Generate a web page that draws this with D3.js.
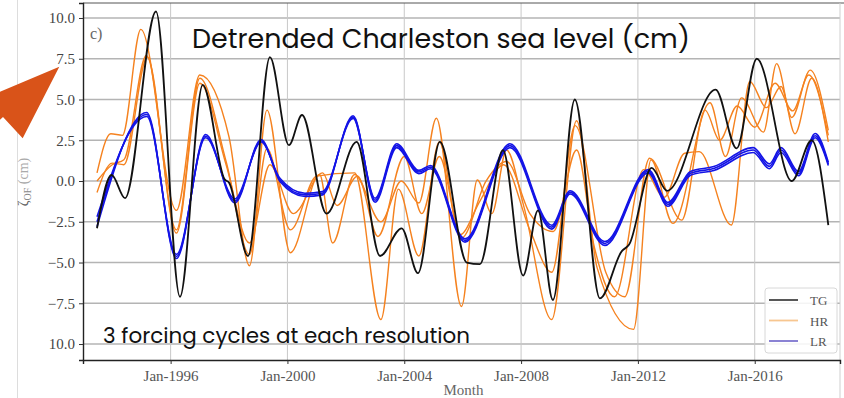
<!DOCTYPE html>
<html>
<head>
<meta charset="utf-8">
<script src="https://cdn.jsdelivr.net/npm/d3@7"></script>
<style>
  html, body { margin: 0; padding: 0; background: #fff; }
  svg { display: block; }
</style>
</head>
<body>
<svg id="chart" width="844" height="398"></svg>
<script>
// ---------------- DATA ----------------
const yTicks = [-10, -7.5, -5, -2.5, 0, 2.5, 5, 7.5, 10];
const yTickLabels = ["10.0", "\u22127.5", "\u22125.0", "\u22122.5", "0.0", "2.5", "5.0", "7.5", "10.0"];
const xTicks = [1996, 2000, 2004, 2008, 2012, 2016];
const xTickLabels = ["Jan-1996", "Jan-2000", "Jan-2004", "Jan-2008", "Jan-2012", "Jan-2016"];

// TG (tide gauge)
const tgYears = [1993.48, 1993.98, 1994.44, 1995.50, 1996.32, 1997.10, 1997.85, 1998.0, 1998.65, 1999.40, 2000.05, 2000.50, 2001.34, 2002.37, 2003.17, 2003.91, 2004.47, 2005.22, 2006.14, 2006.59, 2007.38, 2008.07, 2008.58, 2009.09, 2009.84, 2010.70, 2011.45, 2011.70, 2012.47, 2013.0, 2014.66, 2015.38, 2016.07, 2017.27, 2017.95, 2018.52];
const tgValues = [-2.9, 0.37, -1.05, 10.4, -7.1, 5.9, 0.1, -0.1, -4.6, 7.6, 2.2, 4.05, -2.0, 2.4, -4.6, -2.9, -5.65, 2.4, -5.0, -5.1, 1.9, -5.8, -1.8, -7.3, 5.0, -7.2, -4.3, -3.9, 0.8, -0.6, 5.6, 2.0, 7.5, 0.0, 2.5, -2.7];

// HR (high resolution) – three forcing cycles
const hr1Years = [1993.48, 1993.95, 1994.35, 1994.98, 1996.2, 1997.0, 1998.0, 1998.7, 1999.3, 2000.1, 2001.1, 2001.55, 2002.3, 2003.2, 2003.9, 2004.5, 2005.1, 2005.96, 2006.5, 2007.0, 2007.5, 2008.1, 2009.05, 2009.9, 2010.6, 2011.85, 2012.45, 2013.2, 2014.47, 2015.0, 2015.55, 2016.3, 2016.75, 2017.27, 2017.9, 2018.52];
const hr1Values = [0.5, 2.9, 2.8, 9.3, -1.8, 6.5, 2.7, -5.2, 4.35, -4.4, 0.4, -3.8, 0.4, -2.5, 0.0, -1.35, 3.85, -7.7, 0.06, -2.0, 1.9, -1.6, -8.5, 3.7, -5.3, -9.1, 1.3, -2.6, 4.8, 1.5, 5.1, 3.0, 7.2, 3.9, 6.8, 3.1];
const hr2Years = [1993.48, 1994.0, 1994.4, 1995.17, 1996.2, 1997.0, 1997.9, 1998.7, 1999.3, 2000.1, 2001.0, 2002.3, 2003.2, 2003.8, 2004.5, 2005.2, 2005.9, 2006.6, 2007.4, 2008.3, 2009.05, 2009.85, 2010.9, 2011.55, 2012.4, 2013.5, 2014.3, 2014.8, 2015.4, 2016.0, 2016.7, 2017.3, 2017.85, 2018.52];
const hr2Values = [0.0, 1.0, 1.3, 7.7, -3.0, 6.3, 1.2, -4.5, 2.0, -3.0, 0.3, 0.5, -8.5, -0.5, -4.6, 2.4, -3.3, -1.2, 1.0, -3.0, -5.6, 3.4, -5.6, -7.1, 1.4, -2.4, 4.35, 2.5, 4.6, 3.3, 6.0, 4.3, 6.5, 2.8];
const hr3Years = [1993.48, 1994.0, 1994.4, 1995.2, 1996.2, 1997.0, 1997.9, 1998.7, 1999.4, 2000.2, 2001.2, 2001.7, 2002.4, 2003.1, 2004.0, 2004.6, 2005.2, 2005.96, 2006.8, 2007.5, 2008.3, 2009.1, 2009.9, 2010.5, 2011.2, 2012.2, 2012.9, 2013.6, 2014.1, 2015.2, 2015.83, 2016.4, 2016.9, 2017.38, 2017.95, 2018.52];
const hr3Values = [-0.7, 1.1, 1.0, 7.6, -3.2, 6.0, 1.0, -3.8, 1.0, -2.0, 0.5, -1.5, 0.3, -3.4, 1.5, -2.0, 1.5, -3.5, 0.0, 1.2, -2.0, -3.1, 1.9, -4.0, -7.1, 0.7, -1.0, 1.7, 1.8, -2.7, 6.1, 4.5, 5.8, 2.9, 6.3, 2.4];

// LR (low resolution) – three forcing cycles
const lrYears = [1993.48, 1995.18, 1996.2, 1997.2, 1998.2, 1999.1, 1999.75, 2000.6, 2001.2, 2002.25, 2003.0, 2003.74, 2004.5, 2004.9, 2006.08, 2007.62, 2009.05, 2009.68, 2010.87, 2012.35, 2013.03, 2013.8, 2014.6, 2015.95, 2016.5, 2016.9, 2017.5, 2018.07, 2018.52];
const lr1Values = [-2.8, 4.2, -4.75, 2.85, -1.35, 2.55, -0.05, -0.95, -0.85, 4.0, -1.3, 2.05, 0.45, 0.75, -3.75, 2.05, -2.95, -0.8, -3.95, 0.5, -1.55, 0.35, 0.65, 1.75, 0.75, 1.75, 0.32, 2.65, 0.95];
const lr2Values = [-2.5, 4.08, -4.63, 2.75, -1.23, 2.47, 0.05, -0.85, -0.75, 3.92, -1.18, 2.17, 0.55, 0.85, -3.65, 2.17, -2.83, -0.7, -3.83, 0.6, -1.43, 0.47, 0.77, 1.9, 0.9, 1.9, 0.45, 2.78, 1.05];
const lr3Values = [-2.2, 3.96, -4.5, 2.65, -1.1, 2.39, 0.15, -0.75, -0.65, 3.84, -1.06, 2.29, 0.65, 0.95, -3.55, 2.29, -2.71, -0.6, -3.71, 0.7, -1.31, 0.59, 0.89, 2.05, 1.05, 2.05, 0.58, 2.91, 1.15];

const legendLabels = ["TG", "HR", "LR"];

// ---------------- DRAW ----------------
const svg = d3.select("#chart");
const W = 844, H = 398;
const plot = { left: 83, right: 840, top: 3, bottom: 360 };

const x = d3.scaleLinear().domain([1993.0, 2018.92]).range([plot.left, plot.right]);
const y = d3.scaleLinear().domain([-10.98, 10.92]).range([plot.bottom, plot.top]);

// faint slide border line at left
svg.append("line").attr("x1", 17.5).attr("x2", 17.5).attr("y1", 0).attr("y2", H)
  .attr("stroke", "#dddddd").attr("stroke-width", 1);

// grid
const g = svg.append("g");
g.selectAll("line.hgrid").data(yTicks).enter().append("line")
  .attr("x1", plot.left).attr("x2", plot.right)
  .attr("y1", d => y(d)).attr("y2", d => y(d))
  .attr("stroke", "#b4b4b4").attr("stroke-width", 1.3);
g.selectAll("line.vgrid").data(xTicks).enter().append("line")
  .attr("x1", d => x(d)).attr("x2", d => x(d))
  .attr("y1", plot.top).attr("y2", plot.bottom)
  .attr("stroke", "#c8c8c8").attr("stroke-width", 1);

// frame top / right
svg.append("line").attr("x1", plot.left).attr("x2", W).attr("y1", plot.top).attr("y2", plot.top)
  .attr("stroke", "#555").attr("stroke-width", 1);
svg.append("line").attr("x1", plot.right).attr("x2", plot.right).attr("y1", plot.top).attr("y2", H)
  .attr("stroke", "#cfcfcf").attr("stroke-width", 1);

// axes
const yAxis = d3.axisLeft(y).tickValues(yTicks).tickSize(4)
  .tickFormat((d, i) => yTickLabels[i]);
const yg = svg.append("g").attr("transform", `translate(${plot.left},0)`).call(yAxis);
yg.select(".domain").attr("stroke", "#222").attr("stroke-width", 1.4);
yg.selectAll(".tick line").attr("stroke", "#333");
yg.selectAll(".tick text").attr("font-family", "'Liberation Serif', 'DejaVu Serif', serif")
  .attr("font-size", 15).attr("fill", "#444").attr("dx", -1);

const xAxis = d3.axisBottom(x).tickValues(xTicks).tickSize(4)
  .tickFormat((d, i) => xTickLabels[i]);
const xg = svg.append("g").attr("transform", `translate(0,${plot.bottom})`).call(xAxis);
xg.select(".domain").attr("stroke", "#222").attr("stroke-width", 1.4);
xg.selectAll(".tick line").attr("stroke", "#333");
xg.selectAll(".tick text").attr("font-family", "'Liberation Serif', 'DejaVu Serif', serif")
  .attr("font-size", 15).attr("fill", "#555").attr("dy", "0.9em");

// axis titles
svg.append("text").attr("x", (plot.left + plot.right) / 2 + 2).attr("y", 395)
  .attr("text-anchor", "middle").attr("font-family", "'Liberation Serif', serif")
  .attr("font-size", 15).attr("fill", "#666").text("Month");

const ylab = svg.append("text").attr("transform", "translate(28,182) rotate(-90)")
  .attr("text-anchor", "middle").attr("font-family", "'Liberation Serif', serif")
  .attr("font-size", 14).attr("fill", "#aaa");
ylab.append("tspan").attr("fill", "#666").text("\u03b6");
ylab.append("tspan").attr("fill", "#888").attr("font-size", 10).attr("dy", 3).text("OF");
ylab.append("tspan").attr("dy", -3).text(" (cm)");

// panel label
svg.append("text").attr("x", 90).attr("y", 39).attr("font-family", "'Liberation Serif', serif")
  .attr("font-size", 16).attr("fill", "#666").text("c)");

// lines
svg.append("clipPath").attr("id", "clip").append("rect")
  .attr("x", plot.left).attr("y", plot.top).attr("width", plot.right - plot.left).attr("height", plot.bottom - plot.top);
const lines = svg.append("g").attr("clip-path", "url(#clip)");
const lineGen = d3.line().x(d => x(d[0])).y(d => y(d[1])).curve(d3.curveMonotoneX);
const zip = (a, b) => a.map((v, i) => [v, b[i]]);

const hrColor = "#f5821f";
[[hr1Years, hr1Values], [hr2Years, hr2Values], [hr3Years, hr3Values]].forEach(([yr, v]) => {
  lines.append("path").datum(zip(yr, v)).attr("d", lineGen)
    .attr("fill", "none").attr("stroke", hrColor).attr("stroke-width", 1.4);
});
const lrColor = "#1414e6";
[lr1Values, lr2Values, lr3Values].forEach(v => {
  lines.append("path").datum(zip(lrYears, v)).attr("d", lineGen)
    .attr("fill", "none").attr("stroke", lrColor).attr("stroke-width", 1.6);
});
lines.append("path").datum(zip(tgYears, tgValues)).attr("d", lineGen)
  .attr("fill", "none").attr("stroke", "#111").attr("stroke-width", 1.8);

// legend
const leg = svg.append("g");
leg.append("rect").attr("x", 765).attr("y", 288).attr("width", 72).attr("height", 65).attr("rx", 3)
  .attr("fill", "#fff").attr("fill-opacity", 0.85).attr("stroke", "#d8d8d8");
const legColors = ["#444", "#f7c690", "#7d74cf"];
legendLabels.forEach((lab, i) => {
  const yy = 300 + i * 20.5;
  leg.append("line").attr("x1", 769).attr("x2", 798).attr("y1", yy).attr("y2", yy)
    .attr("stroke", legColors[i]).attr("stroke-width", 1.8);
  leg.append("text").attr("x", 810).attr("y", yy + 5).attr("font-family", "'Liberation Serif', serif")
    .attr("font-size", 13).attr("fill", "#555").text(lab);
});

// overlay annotations
svg.append("text").attr("x", 192).attr("y", 48).attr("font-family", "Poppins, Inter, 'Open Sans', sans-serif")
  .attr("font-size", 27).attr("fill", "#111").attr("textLength", 498).attr("lengthAdjust", "spacingAndGlyphs")
  .text("Detrended Charleston sea level (cm)");
svg.append("text").attr("x", 103).attr("y", 343).attr("font-family", "Poppins, Inter, 'Open Sans', sans-serif")
  .attr("font-size", 22).attr("fill", "#111").attr("textLength", 367).attr("lengthAdjust", "spacingAndGlyphs")
  .text("3 forcing cycles at each resolution");

// orange arrow
svg.append("polygon")
  .attr("points", [[59.3, 66.7], [22.7, 138.3], [3, 117], [-10, 129], [-10, 95.9]].map(p => p.join(",")).join(" "))
  .attr("fill", "#d95319");
</script>
</body>
</html>
